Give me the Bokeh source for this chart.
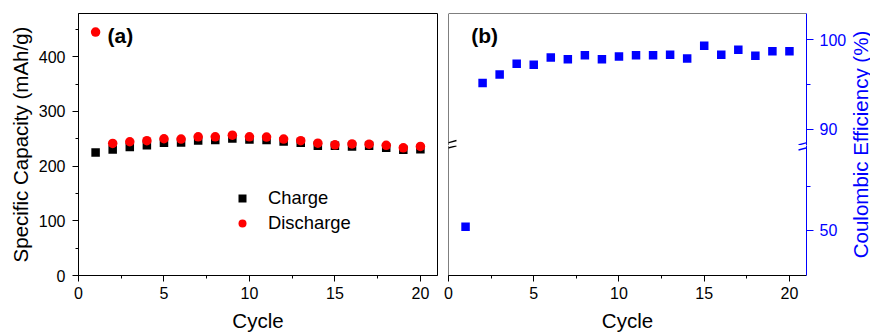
from bokeh.plotting import figure
from bokeh.layouts import row, column
from bokeh.models import (Range1d, SingleIntervalTicker, FixedTicker, Legend,
                          LegendItem, Label, Span, Arrow)
from bokeh.embed import file_html
from bokeh.resources import INLINE

# ---------------- data ----------------
cycles = list(range(1, 21))
charge = [225, 230.5, 235, 238, 242.5, 243, 247, 247.5, 250.5, 248.5,
          247.5, 245, 242.5, 237, 237, 236, 237, 233.5, 230, 231]
discharge = [445, 241.5, 244.5, 246.5, 250, 249.5, 253.5, 253.5, 256.5, 253.5,
             253, 249.5, 246.5, 242, 239, 240.5, 240, 238, 233.5, 236]
coulombic = [50.8, 95.15, 96.1, 97.3, 97.2, 98.0, 97.8, 98.25, 97.8, 98.1,
             98.25, 98.25, 98.3, 97.9, 99.3, 98.3, 98.85, 98.2, 98.7, 98.7]

x_limits = (0, 21)
cap_limits = (0, 479)
ce_upper_limits = (88.2, 102.9)
ce_lower_limits = (39.5, 69.6)
ce_lower_major = [50]
ce_lower_minor = [60]

FONT = "Liberation Sans"
BLUE = "#0000FF"
RED = "#FF0000"

FRAME_W = 359
UP_H = 132
LO_H = 130


def style_axis(ax, color="black", tick_out=6, minor_out=3):
    ax.axis_line_color = color
    ax.axis_line_width = 1
    ax.major_tick_line_color = color
    ax.minor_tick_line_color = color
    ax.major_tick_out = tick_out
    ax.major_tick_in = 0
    ax.minor_tick_out = minor_out
    ax.minor_tick_in = 0
    ax.major_label_text_font = FONT
    ax.major_label_text_font_size = "16px"
    ax.major_label_text_color = color
    ax.major_label_standoff = 5
    ax.axis_label_text_font = FONT
    ax.axis_label_text_font_size = "20.5px"
    ax.axis_label_text_font_style = "normal"
    ax.axis_label_text_color = color
    ax.axis_label_standoff = 7


# ---------------- panel (a) ----------------
pa = figure(width=440, height=335, x_range=Range1d(*x_limits),
            y_range=Range1d(*cap_limits), toolbar_location=None,
            output_backend="svg", min_border_left=78, min_border_right=3,
            min_border_top=13, min_border_bottom=60)
pa.outline_line_color = "black"
pa.outline_line_alpha = 1
pa.outline_line_width = 1
pa.grid.grid_line_color = None
pa.background_fill_color = "white"
pa.border_fill_color = "white"
pa.xaxis.ticker = SingleIntervalTicker(interval=5, num_minor_ticks=2)
pa.yaxis.ticker = SingleIntervalTicker(interval=100, num_minor_ticks=2)
pa.xaxis.axis_label = "Cycle"
pa.yaxis.axis_label = "Specific Capacity (mAh/g)"
style_axis(pa.xaxis[0])
style_axis(pa.yaxis[0])
pa.yaxis[0].axis_label_standoff = 4
pa.yaxis[0].major_label_standoff = 7

r_ch = pa.scatter(cycles, charge, marker="square", size=8.5,
                  fill_color="black", line_color=None)
r_dis = pa.scatter(cycles, discharge, marker="circle", size=9.5,
                   fill_color=RED, line_color=None)

leg = Legend(items=[LegendItem(label="Charge", renderers=[r_ch]),
                    LegendItem(label="Discharge", renderers=[r_dis])],
             location=(154, 41), glyph_width=20, glyph_height=20,
             label_standoff=16, spacing=3, padding=0, margin=0,
             border_line_color=None, background_fill_alpha=0,
             label_text_font=FONT, label_text_font_size="18.4px",
             label_text_color="black", label_height=20)
pa.add_layout(leg)
pa.add_layout(Label(x=1.7, y=439.5, text="(a)", text_font=FONT,
                    text_font_size="21px", text_font_style="bold",
                    text_color="black",
                    text_align="left", text_baseline="middle"))

# ---------------- panel (b) ----------------
xb = Range1d(*x_limits)
common = dict(width=409, x_range=xb, toolbar_location=None,
              output_backend="svg", y_axis_location="right",
              min_border_left=8, min_border_right=42)
pbu = figure(height=145, y_range=Range1d(*ce_upper_limits), x_axis_type=None,
             min_border_top=13, min_border_bottom=0, **common)
pbl = figure(height=190, y_range=Range1d(*ce_lower_limits),
             min_border_top=0, min_border_bottom=60, **common)

for p in (pbu, pbl):
    p.outline_line_color = None
    p.grid.grid_line_color = None
    p.background_fill_color = "white"
    p.border_fill_color = "white"
    p.scatter(cycles, coulombic, marker="square", size=8.5,
              fill_color=BLUE, line_color=None)
    style_axis(p.yaxis[0], color=BLUE, tick_out=7, minor_out=4)
    p.yaxis[0].major_label_standoff = 6
    p.add_layout(Span(location=0, dimension="height", line_color="black",
                      line_width=1))

pbu.yaxis[0].ticker = SingleIntervalTicker(interval=10, num_minor_ticks=2)
pbl.yaxis[0].ticker = FixedTicker(ticks=ce_lower_major, minor_ticks=ce_lower_minor)
pbu.add_layout(Span(location=ce_upper_limits[1], dimension="width",
                    line_color="black", line_width=1))
pbl.xaxis.ticker = SingleIntervalTicker(interval=5, num_minor_ticks=2)
pbl.xaxis.axis_label = "Cycle"
style_axis(pbl.xaxis[0])

pbu.add_layout(Label(x=1.33, y=100.45, text="(b)", text_font=FONT,
                     text_font_size="21px", text_font_style="bold",
                     text_color="black",
                     text_align="left", text_baseline="middle"))

# axis-break marks
kx = FRAME_W / (x_limits[1] - x_limits[0])
ku = UP_H / (ce_upper_limits[1] - ce_upper_limits[0])
kl = LO_H / (ce_lower_limits[1] - ce_lower_limits[0])
for x0, col in ((x_limits[0], "black"), (x_limits[1], BLUE)):
    pbu.add_layout(Arrow(end=None, start=None,
                         x_start=x0 - 8 / kx, y_start=ce_upper_limits[0] + 0.5 / ku,
                         x_end=x0 + 8 / kx, y_end=ce_upper_limits[0] + 5 / ku,
                         line_color=col, line_width=1.3))
    pbl.add_layout(Arrow(end=None, start=None,
                         x_start=x0 - 8 / kx, y_start=ce_lower_limits[1] - 4.5 / kl,
                         x_end=x0 + 8 / kx, y_end=ce_lower_limits[1] - 0.3 / kl,
                         line_color=col, line_width=1.3))

# right-hand axis title, centred on the whole panel (b) height
plab = figure(width=21, height=335, x_range=Range1d(0, 1), y_range=Range1d(0, 1),
              x_axis_type=None, y_axis_type=None, toolbar_location=None,
              output_backend="svg", min_border_left=0, min_border_right=0,
              min_border_top=13, min_border_bottom=60)
plab.outline_line_color = None
plab.grid.grid_line_color = None
plab.border_fill_color = "white"
plab.add_layout(Label(x=0.5, y=0.5, text="Coulombic Efficiency (%)",
                      angle=90, angle_units="deg", text_align="center",
                      text_baseline="middle", text_color=BLUE, text_font=FONT,
                      text_font_size="20.5px"))

layout = row(pa, column(pbu, pbl), plab)
open("out.html", "w").write(file_html(layout, INLINE))
